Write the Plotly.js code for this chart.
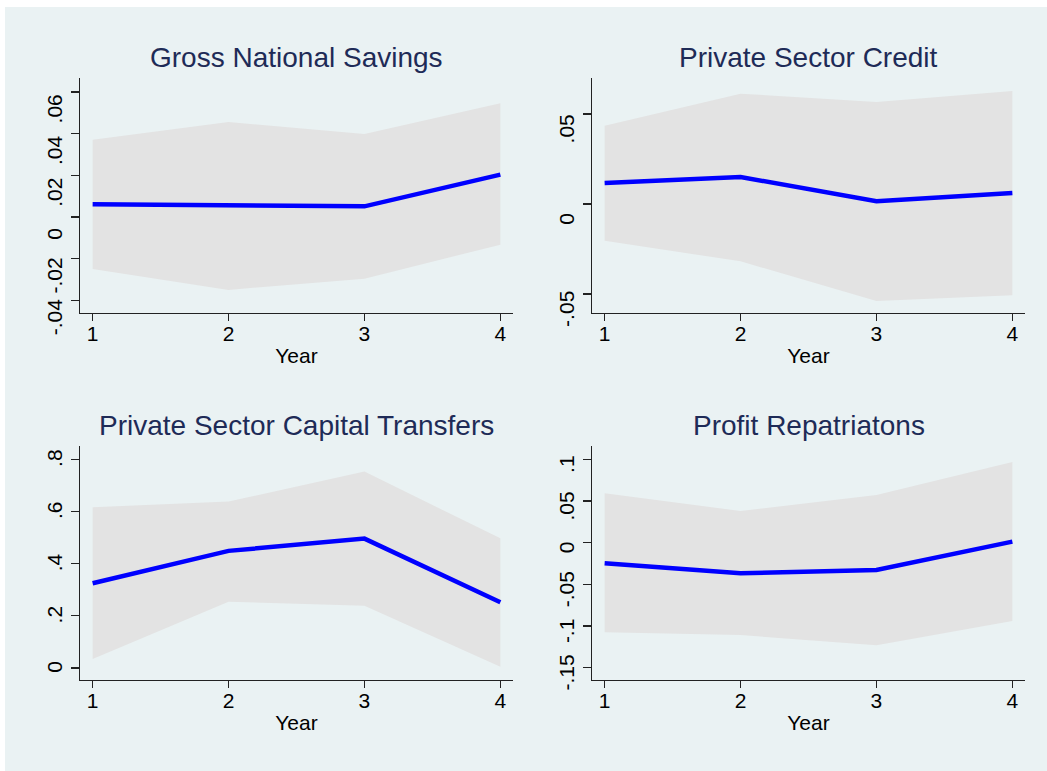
<!DOCTYPE html>
<html>
<head>
<meta charset="utf-8">
<script src="https://cdn.plot.ly/plotly-3.0.1.min.js"></script>
<style>
html,body{margin:0;padding:0;background:#ffffff;}
#chart{width:1047px;height:771px;}
</style>
</head>
<body>
<div id="chart"></div>
<script>
// ---- data ----
var years = [1, 2, 3, 4];

var gnsTitle = "Gross National Savings";
var gnsIrf = [0.0061, 0.0054, 0.0051, 0.0203];
var gnsLo  = [-0.0250, -0.0350, -0.0296, -0.0133];
var gnsHi  = [0.0371, 0.0456, 0.0398, 0.0546];
var gnsTicks = [-0.04, -0.02, 0, 0.02, 0.04, 0.06];
var gnsTickText = ["-.04", "-.02", "0", ".02", ".04", ".06"];

var pscTitle = "Private Sector Credit";
var pscIrf = [0.0117, 0.0150, 0.0015, 0.0061];
var pscLo  = [-0.0204, -0.0319, -0.0539, -0.0507];
var pscHi  = [0.0435, 0.0613, 0.0567, 0.0628];
var pscTicks = [-0.05, 0, 0.05];
var pscTickText = ["-.05", "0", ".05"];

var pctTitle = "Private Sector Capital Transfers";
var pctIrf = [0.325, 0.449, 0.496, 0.252];
var pctLo  = [0.0345, 0.254, 0.239, 0.005];
var pctHi  = [0.616, 0.638, 0.753, 0.497];
var pctTicks = [0, 0.2, 0.4, 0.6, 0.8];
var pctTickText = ["0", ".2", ".4", ".6", ".8"];

var prTitle = "Profit Repatriatons";
var prIrf = [-0.0248, -0.0368, -0.0328, 0.0012];
var prLo  = [-0.1076, -0.1108, -0.1232, -0.0940];
var prHi  = [0.0592, 0.0380, 0.0572, 0.0968];
var prTicks = [-0.15, -0.1, -0.05, 0, 0.05, 0.1];
var prTickText = ["-.15", "-.1", "-.05", "0", ".05", ".1"];

var xTicks = [1, 2, 3, 4];
var xTitle = "Year";

// ---- layout helpers ----
var W = 1047, H = 771;
function dx(a, b) { return [a / W, b / W]; }
function dy(top, bottom) { return [1 - bottom / H, 1 - top / H]; }

var FONT = "Liberation Sans, Arial, sans-serif";
var BG = "#EAF2F3";
var BAND = "#E3E3E3";
var LINE = "#0000FF";

var panels = [
  {title: gnsTitle, irf: gnsIrf, lo: gnsLo, hi: gnsHi, ticks: gnsTicks, text: gnsTickText,
   xd: dx(80, 513), yd: dy(78, 313), yr: [-0.0461, 0.0667], shift: 20},
  {title: pscTitle, irf: pscIrf, lo: pscLo, hi: pscHi, ticks: pscTicks, text: pscTickText,
   xd: dx(592, 1025), yd: dy(78, 313), yr: [-0.0606, 0.0700], shift: 18},
  {title: pctTitle, irf: pctIrf, lo: pctLo, hi: pctHi, ticks: pctTicks, text: pctTickText,
   xd: dx(80, 513), yd: dy(446, 680), yr: [-0.046, 0.851], shift: 2},
  {title: prTitle, irf: prIrf, lo: prLo, hi: prHi, ticks: prTicks, text: prTickText,
   xd: dx(592, 1025), yd: dy(446, 680), yr: [-0.1648, 0.116], shift: 8}
];

var data = [];
var layout = {
  width: W, height: H,
  margin: {l: 0, r: 0, t: 0, b: 0},
  paper_bgcolor: "#ffffff",
  plot_bgcolor: "#ffffff",
  showlegend: false,
  font: {family: FONT, color: "#000000", size: 21},
  annotations: [],
  shapes: [{
    type: "rect", xref: "paper", yref: "paper", layer: "below",
    x0: 5 / W, x1: 1, y0: 0, y1: 1 - 7 / H,
    fillcolor: BG, line: {width: 0}
  }]
};

panels.forEach(function (p, i) {
  var n = i + 1;
  var xa = n === 1 ? "x" : "x" + n;
  var ya = n === 1 ? "y" : "y" + n;
  data.push({x: years, y: p.lo, xaxis: xa, yaxis: ya, type: "scatter", mode: "lines",
             line: {width: 0, color: BAND}, hoverinfo: "skip"});
  data.push({x: years, y: p.hi, xaxis: xa, yaxis: ya, type: "scatter", mode: "lines",
             fill: "tonexty", fillcolor: BAND, line: {width: 0, color: BAND}, hoverinfo: "skip"});
  data.push({x: years, y: p.irf, xaxis: xa, yaxis: ya, type: "scatter", mode: "lines",
             line: {width: 4.5, color: LINE}});

  layout["xaxis" + (n === 1 ? "" : n)] = {
    domain: p.xd, anchor: ya, range: [0.907, 4.093],
    tickmode: "array", tickvals: xTicks, ticktext: xTicks.map(String),
    ticks: "outside", ticklen: 7, tickwidth: 1.3, tickcolor: "#222222",
    ticklabelstandoff: -6,
    showline: true, linecolor: "#222222", linewidth: 1.3,
    showgrid: false, zeroline: false,
    tickfont: {family: FONT, size: 21, color: "#000000"},
    title: {text: xTitle, font: {family: FONT, size: 21, color: "#000000"}, standoff: 4}
  };
  layout["yaxis" + (n === 1 ? "" : n)] = {
    domain: p.yd, anchor: xa, range: p.yr,
    tickmode: "array", tickvals: p.ticks, ticktext: p.text,
    tickangle: -90, ticklabelshift: p.shift,
    ticks: "outside", ticklen: 8, tickwidth: 1.3, tickcolor: "#222222",
    showline: true, linecolor: "#222222", linewidth: 1.3,
    showgrid: true, gridcolor: BG, gridwidth: 1.5, zeroline: false,
    tickfont: {family: FONT, size: 21, color: "#000000"}
  };
  layout.annotations.push({
    text: p.title, showarrow: false,
    xref: xa + " domain", yref: ya + " domain", x: 0.5, y: 1,
    xanchor: "center", yanchor: "bottom", yshift: 3,
    font: {family: FONT, size: 28, color: "#1E2B57"}
  });
});

Plotly.newPlot("chart", data, layout, {displayModeBar: false, staticPlot: true});
</script>
</body>
</html>
